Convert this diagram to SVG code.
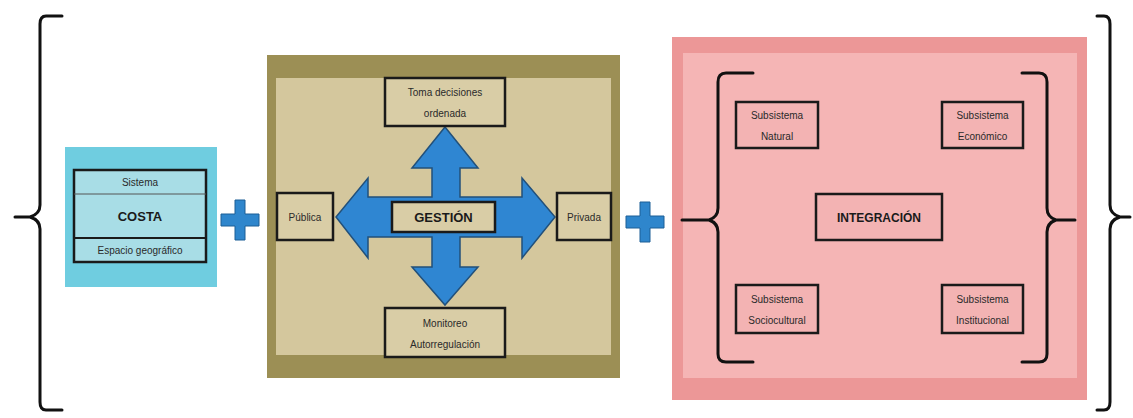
<svg xmlns="http://www.w3.org/2000/svg" width="1133" height="418" viewBox="0 0 1133 418">
<defs>
<style>
.t{font-family:"Liberation Sans",Arial,sans-serif;font-size:10px;fill:#2a2a2a;text-anchor:middle}
.b{font-family:"Liberation Sans",Arial,sans-serif;font-size:13px;font-weight:bold;fill:#1a1a1a;text-anchor:middle}
.box{stroke:#1a1a1a;stroke-width:2.5}
.brace{fill:none;stroke:#111;stroke-width:3;stroke-linejoin:round;stroke-linecap:round}
.plus{fill:#2f86cc;stroke:#1d5f96;stroke-width:1}
.arrow{fill:#2f86d2;stroke:#22507a;stroke-width:1.5;stroke-linejoin:miter}
</style>
</defs>
<rect width="1133" height="418" fill="#ffffff"/>

<g id="connectors">
<path class="brace" d="M62,16 H46 Q40,16 40,24 V205 Q40,214 30,217 H15 M30,217 Q40,220 40,229 V402 Q40,410 46,410 H62"/>
<path class="brace" d="M1097,16 H1104 Q1110,16 1110,24 V205 Q1110,214 1120,217 H1130 M1120,217 Q1110,220 1110,229 V402 Q1110,410 1104,410 H1097"/>
<path class="plus" d="M235,200 H245 V214 H259 V226 H245 V240 H235 V226 H221 V214 H235 Z"/>
<path class="plus" d="M640,202 H650 V216 H664 V228 H650 V242 H640 V228 H626 V216 H640 Z"/>
</g>

<g id="costa">
<rect x="65" y="147" width="152" height="140" fill="#6fcde0"/>
<rect class="box" x="74" y="170" width="132" height="92" fill="#a8dde6"/>
<line x1="74" y1="194" x2="206" y2="194" stroke="#555" stroke-width="1"/>
<line x1="74" y1="238" x2="206" y2="238" stroke="#1a1a1a" stroke-width="2"/>
<text class="t" x="140" y="186">Sistema</text>
<text class="b" x="140" y="221">COSTA</text>
<text class="t" x="140" y="254">Espacio geográfico</text>
</g>

<g id="gestion-panel">
<rect x="267" y="55" width="353" height="323" fill="#9c8f55"/>
<rect x="276" y="78" width="335" height="277" fill="#d4c79d"/>
<path class="arrow" d="M445,127 L478,168 L460,168 L460,197 L522,197 L522,178 L555,217 L522,258 L522,237 L460,237 L460,267 L478,267 L445,305 L412,267 L432,267 L432,237 L368,237 L368,258 L336,217 L368,178 L368,197 L432,197 L432,168 L412,168 Z"/>
</g>

<g id="toma">
<rect class="box" x="385" y="78" width="120" height="48" fill="#d9cda6"/>
<text class="t" x="445" y="96">Toma decisiones</text>
<text class="t" x="445" y="117">ordenada</text>
</g>
<g id="monitoreo">
<rect class="box" x="385" y="308" width="120" height="49" fill="#d9cda6"/>
<text class="t" x="445" y="327">Monitoreo</text>
<text class="t" x="445" y="348">Autorregulación</text>
</g>
<g id="publica">
<rect class="box" x="277" y="193" width="56" height="47" fill="#d9cda6"/>
<text class="t" x="305" y="221">Pública</text>
</g>
<g id="privada">
<rect class="box" x="557" y="193" width="54" height="47" fill="#d9cda6"/>
<text class="t" x="584" y="221">Privada</text>
</g>
<g id="gestion">
<rect class="box" x="392" y="202" width="103" height="30" fill="#d9cda6"/>
<text class="b" x="443.5" y="222">GESTIÓN</text>
</g>

<g id="integracion-panel">
<rect x="672" y="37" width="415" height="363" fill="#ec9797"/>
<rect x="683" y="53" width="394" height="325" fill="#f5b5b5"/>
<path class="brace" d="M753,73 H726 Q718,73 718,82 V208 Q718,217 709,220 H682 M709,220 Q718,223 718,232 V354 Q718,362 726,362 H753"/>
<path class="brace" d="M1022,73 H1039 Q1047,73 1047,82 V208 Q1047,217 1056,220 H1075 M1056,220 Q1047,223 1047,232 V354 Q1047,362 1039,362 H1022"/>
</g>

<g id="natural">
<rect class="box" x="736" y="102" width="82" height="46" fill="#f3b3b3"/>
<text class="t" x="777" y="119">Subsistema</text>
<text class="t" x="777" y="140">Natural</text>
</g>
<g id="economico">
<rect class="box" x="942" y="102" width="81" height="46" fill="#f3b3b3"/>
<text class="t" x="982.5" y="119">Subsistema</text>
<text class="t" x="982.5" y="140">Económico</text>
</g>
<g id="sociocultural">
<rect class="box" x="736" y="285" width="82" height="48" fill="#f3b3b3"/>
<text class="t" x="777" y="303">Subsistema</text>
<text class="t" x="777" y="324">Sociocultural</text>
</g>
<g id="institucional">
<rect class="box" x="942" y="285" width="81" height="48" fill="#f3b3b3"/>
<text class="t" x="982.5" y="303">Subsistema</text>
<text class="t" x="982.5" y="324">Institucional</text>
</g>
<g id="integracion">
<rect class="box" x="816" y="194" width="126" height="46" fill="#f3b3b3"/>
<text class="b" x="879" y="222" style="font-size:12px">INTEGRACIÓN</text>
</g>
</svg>
